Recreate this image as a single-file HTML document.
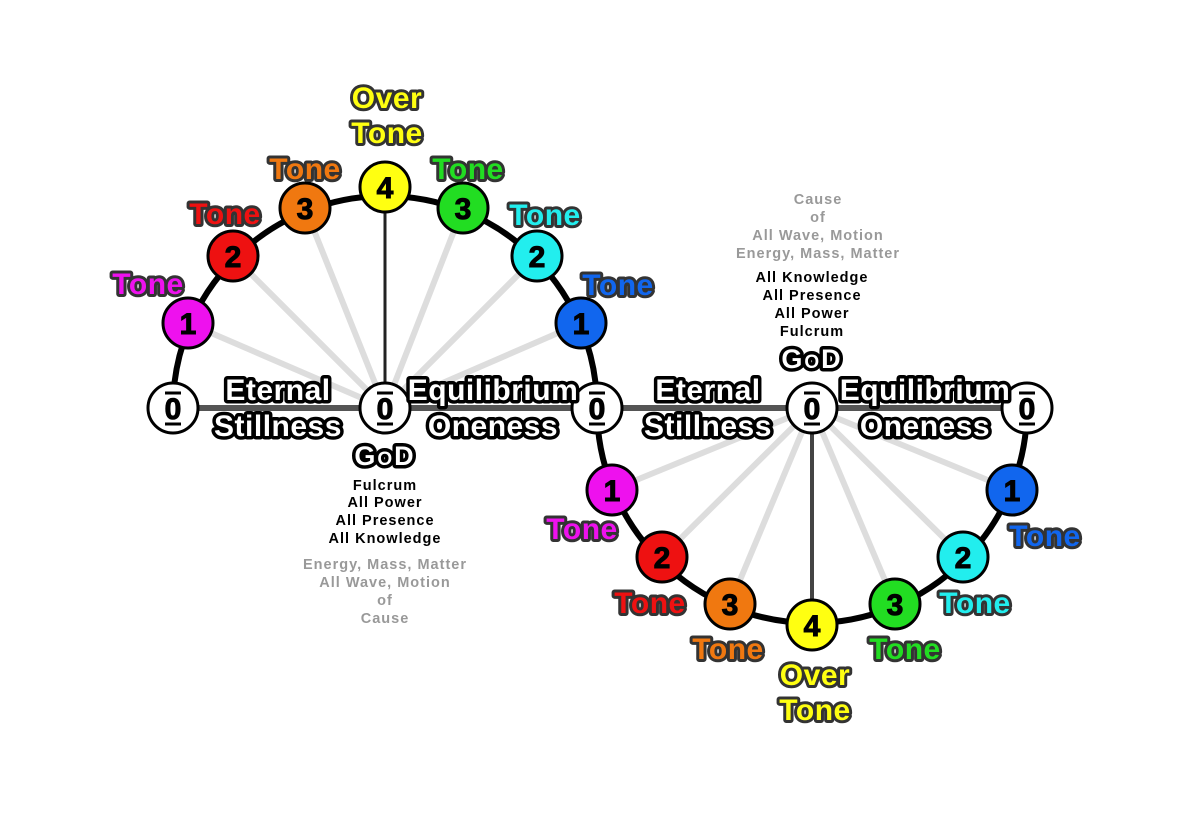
<!DOCTYPE html>
<html><head><style>
html,body{margin:0;padding:0;background:#fff}
svg{display:block}
text{font-family:"Liberation Sans",sans-serif;font-weight:bold;text-anchor:middle}
.t{font-size:30px;stroke:#333;stroke-width:6px;paint-order:stroke;stroke-linejoin:round;letter-spacing:0.5px}
.w{font-size:30px;fill:#fff;stroke:#000;stroke-width:7px;paint-order:stroke;stroke-linejoin:round;letter-spacing:0.5px}
.n{font-size:30px;fill:#000;stroke:#000;stroke-width:1px}
.s{font-size:14.5px;fill:#000;letter-spacing:1px}
.g{font-size:14.5px;fill:#999;letter-spacing:1px}
</style></head><body>
<svg width="1200" height="816" viewBox="0 0 1200 816">
<g stroke="#ddd" stroke-width="6">
<line x1="385" y1="408" x2="188" y2="323"/><line x1="385" y1="408" x2="233" y2="256"/>
<line x1="385" y1="408" x2="305" y2="208"/><line x1="385" y1="408" x2="463" y2="208"/>
<line x1="385" y1="408" x2="537" y2="256"/><line x1="385" y1="408" x2="581" y2="323"/>
<line x1="812" y1="408" x2="612" y2="490"/><line x1="812" y1="408" x2="662" y2="557"/>
<line x1="812" y1="408" x2="730" y2="604"/><line x1="812" y1="408" x2="895" y2="604"/>
<line x1="812" y1="408" x2="963" y2="557"/><line x1="812" y1="408" x2="1012" y2="490"/>
</g>
<line x1="173" y1="408" x2="1027" y2="408" stroke="#555" stroke-width="6"/>
<line x1="385" y1="408" x2="385" y2="187" stroke="#222" stroke-width="3"/>
<line x1="812" y1="408" x2="812" y2="625" stroke="#444" stroke-width="4"/>
<path d="M173 408 A212 212 0 0 1 597 408 A215 215 0 0 0 1027 408" fill="none" stroke="#000" stroke-width="6"/>
<g stroke="#000" stroke-width="3">
<circle cx="188" cy="323" r="25" fill="#ee11ee"/><circle cx="233" cy="256" r="25" fill="#ee1111"/>
<circle cx="305" cy="208" r="25" fill="#f07810"/><circle cx="385" cy="187" r="25" fill="#ffff11"/>
<circle cx="463" cy="208" r="25" fill="#22dd22"/><circle cx="537" cy="256" r="25" fill="#22eeee"/>
<circle cx="581" cy="323" r="25" fill="#1166ee"/>
<circle cx="612" cy="490" r="25" fill="#ee11ee"/><circle cx="662" cy="557" r="25" fill="#ee1111"/>
<circle cx="730" cy="604" r="25" fill="#f07810"/><circle cx="812" cy="625" r="25" fill="#ffff11"/>
<circle cx="895" cy="604" r="25" fill="#22dd22"/><circle cx="963" cy="557" r="25" fill="#22eeee"/>
<circle cx="1012" cy="490" r="25" fill="#1166ee"/>
<circle cx="173" cy="408" r="25" fill="#fff"/><circle cx="385" cy="408" r="25" fill="#fff"/>
<circle cx="597" cy="408" r="25" fill="#fff"/><circle cx="812" cy="408" r="25" fill="#fff"/>
<circle cx="1027" cy="408" r="25" fill="#fff"/>
</g>
<g class="n">
<text x="188" y="334">1</text><text x="233" y="267">2</text><text x="305" y="219">3</text>
<text x="385" y="198">4</text><text x="463" y="219">3</text><text x="537" y="267">2</text>
<text x="581" y="334">1</text><text x="612" y="501">1</text><text x="662" y="568">2</text>
<text x="730" y="615">3</text><text x="812" y="636">4</text><text x="895" y="615">3</text>
<text x="963" y="568">2</text><text x="1012" y="501">1</text>
<text x="173" y="419">0</text><text x="385" y="419">0</text><text x="597" y="419">0</text>
<text x="812" y="419">0</text><text x="1027" y="419">0</text>
</g>
<g stroke="#000" stroke-width="3">
<line x1="165" y1="393" x2="181" y2="393"/><line x1="165" y1="424" x2="181" y2="424"/>
<line x1="377" y1="393" x2="393" y2="393"/><line x1="377" y1="424" x2="393" y2="424"/>
<line x1="589" y1="393" x2="605" y2="393"/><line x1="589" y1="424" x2="605" y2="424"/>
<line x1="804" y1="393" x2="820" y2="393"/><line x1="804" y1="424" x2="820" y2="424"/>
<line x1="1019" y1="393" x2="1035" y2="393"/><line x1="1019" y1="424" x2="1035" y2="424"/>
</g>
<g class="t">
<text x="148" y="294" fill="#ee11ee">Tone</text>
<text x="225" y="224" fill="#ee1111">Tone</text>
<text x="305" y="179" fill="#f07810">Tone</text>
<text x="387" y="108" fill="#ffff11">Over</text>
<text x="387" y="143" fill="#ffff11">Tone</text>
<text x="468" y="179" fill="#22dd22">Tone</text>
<text x="545" y="225" fill="#22eeee">Tone</text>
<text x="618" y="295" fill="#1166ee">Tone</text>
<text x="582" y="539" fill="#ee11ee">Tone</text>
<text x="650" y="613" fill="#ee1111">Tone</text>
<text x="728" y="659" fill="#f07810">Tone</text>
<text x="815" y="685" fill="#ffff11">Over</text>
<text x="815" y="720" fill="#ffff11">Tone</text>
<text x="905" y="659" fill="#22dd22">Tone</text>
<text x="975" y="613" fill="#22eeee">Tone</text>
<text x="1045" y="546" fill="#1166ee">Tone</text>
</g>
<g class="w">
<text x="278" y="400">Eternal</text><text x="278" y="436">Stillness</text>
<text x="493" y="400">Equilibrium</text><text x="493" y="436">Oneness</text>
<text x="708" y="400">Eternal</text><text x="708" y="436">Stillness</text>
<text x="925" y="400">Equilibrium</text><text x="925" y="436">Oneness</text>
<text x="385" y="465" style="font-size:27px;letter-spacing:2px">G<tspan style="font-size:19px">O</tspan>D</text>
<text x="812" y="368" style="font-size:27px;letter-spacing:2px">G<tspan style="font-size:19px">O</tspan>D</text>
</g>
<g class="s">
<text x="385" y="490">Fulcrum</text><text x="385" y="507">All Power</text>
<text x="385" y="525">All Presence</text><text x="385" y="543">All Knowledge</text>
<text x="812" y="282">All Knowledge</text><text x="812" y="300">All Presence</text>
<text x="812" y="318">All Power</text><text x="812" y="336">Fulcrum</text>
</g>
<g class="g">
<text x="385" y="569">Energy, Mass, Matter</text><text x="385" y="587">All Wave, Motion</text>
<text x="385" y="605">of</text><text x="385" y="623">Cause</text>
<text x="818" y="204">Cause</text><text x="818" y="222">of</text>
<text x="818" y="240">All Wave, Motion</text><text x="818" y="258">Energy, Mass, Matter</text>
</g>
</svg>
</body></html>
